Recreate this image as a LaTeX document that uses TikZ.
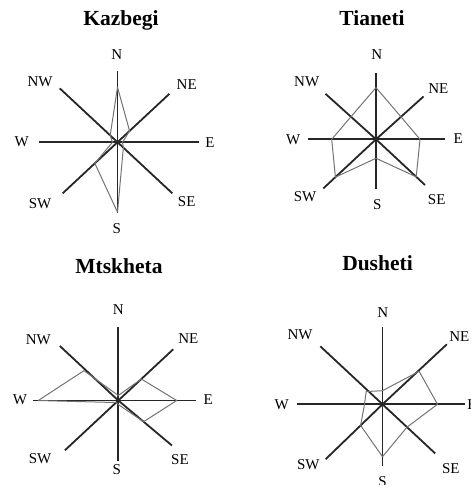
\documentclass[tikz,border=0pt]{standalone}
\usepackage{fontspec}
\setmainfont{Liberation Serif}
\usepackage{tikz}

\begin{document}
\begin{tikzpicture}[
    x=1pt, y=1pt,
    % Define styles
    axis/.style={line width=1.8pt, black!85},
    rose/.style={line width=1pt, black!55, line join=round},
    lbl/.style={font=\fontsize{15}{15}\selectfont, inner sep=0pt},
    title/.style={font=\fontsize{21.5}{22}\selectfont\bfseries, inner sep=0pt, anchor=base},
    ]
    \useasboundingbox (0,0) rectangle (471,485);

    % Kazbegi
    \begin{scope}[shift={(117.5,342.8)}]
        \node[title] (kazbegi) at (3.5,116.5) {Kazbegi};
        \foreach \a/\r in {90/71, 43/71, 0/81, -43/75, -90/71, -137/75, 180/79, 137/79}
            \draw[axis] (0,0) -- (\a:\r);
        \foreach \t/\x/\y in {N/-0.8/87.2, NE/69.2/57.2, E/92.5/-0.8, SE/69.2/-59.5,
                              S/-0.8/-86.8, SW/-77.5/-61.8, W/-95.8/0.5, NW/-77.5/60.5}
            \node[lbl] (kaz\t) at (\x,\y) {\t};
        \draw[rose] (90:55) -- (43:16.5) -- (0:5) -- (-43:8) -- (-90:70)
            -- (-137:31) -- (180:5) -- (137:10) -- cycle;
    \end{scope}

    % Tianeti
    \begin{scope}[shift={(376,345.7)}]
        \node[title] (tianeti) at (-4,113.3) {Tianeti};
        \foreach \a/\r in {90/66, 42/64, 0/69, -43/67, -90/50, -137/72, 180/68, 138/68}
            \draw[axis] (0,0) -- (\a:\r);
        \foreach \t/\x/\y in {N/0.7/84.3, NE/62.3/51, E/82.3/1, SE/60.7/-60.7,
                              S/1.3/-65.7, SW/-71/-57.4, W/-82.7/0, NW/-69.3/57.6}
            \node[lbl] (tia\t) at (\x,\y) {\t};
        \draw[rose] (90:51.7) -- (42:33.6) -- (0:44) -- (-43:55) -- (-90:19)
            -- (-137:55.5) -- (180:44.3) -- (138:33.7) -- cycle;
    \end{scope}

    % Mtskheta
    \begin{scope}[shift={(118.3,84.5)}]
        \node[title] (mtskheta) at (0.7,127.2) {Mtskheta};
        \foreach \a/\r in {90/73, 43/75, 0/78, -40/70, -90/61, -137/73, 180/85, 137/80}
            \draw[axis] (0,0) -- (\a:\r);
        \foreach \t/\x/\y in {N/0/90.5, NE/70/62.2, E/90/0.5, SE/61.7/-59.5,
                              S/-1.6/-69.5, SW/-78.3/-57.8, W/-98.3/1.2, NW/-80/60.5}
            \node[lbl] (mts\t) at (\x,\y) {\t};
        \draw[rose] (90:5) -- (43:31.5) -- (0:58.4) -- (-40:33) -- (-90:4)
            -- (-137:3) -- (180:80) -- (139:45.5) -- cycle;
    \end{scope}

    % Dusheti
    \begin{scope}[shift={(382.5,80.7)}]
        \node[title] (dusheti) at (-5,133.6) {Dusheti};
        \foreach \a/\r in {90/77, 43/88, 0/82.5, -43/72, -90/62, -136/79, 180/86, 137/85}
            \draw[axis] (0,0) -- (\a:\r);
        \foreach \t/\x/\y in {N/0.2/91.3, NE/76.8/67.6, E/89.5/0, SE/68.3/-64.4,
                              S/0/-77.2, SW/-74.2/-60.7, W/-100.8/0, NW/-82.5/69.3}
            \node[lbl] (dus\t) at (\x,\y) {\t};
        \draw[rose] (90:13.6) -- (42:49.3) -- (0:55) -- (-43:33.5) -- (-90:52.4)
            -- (-136:30.4) -- (180:18) -- (142:20.7) -- cycle;
    \end{scope}

\end{tikzpicture}
\end{document}
